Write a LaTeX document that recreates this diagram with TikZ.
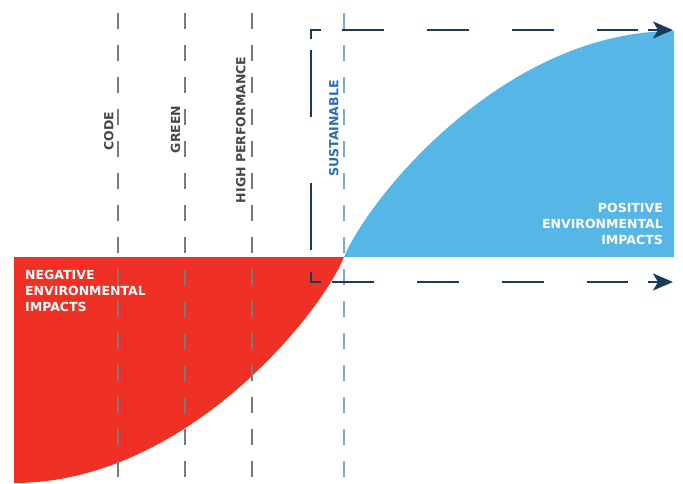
\documentclass[tikz,border=0pt]{standalone}
\usepackage{fontspec}
\setmainfont{DejaVu Sans}
\usetikzlibrary{arrows.meta}
\definecolor{negred}{HTML}{EE3124}
\definecolor{posblue}{HTML}{56B7E6}
\definecolor{axisnavy}{HTML}{1B3A5C}
\definecolor{levelgray}{HTML}{7A7A7A}
\definecolor{sustline}{HTML}{7FA6CB}
\definecolor{susttext}{HTML}{2B6DB3}

\begin{document}
\begin{tikzpicture}[x=1pt,y=-1pt,>={Stealth[length=20pt,width=17pt,inset=5pt]},
    font=\bfseries\fontsize{12.5}{16}\selectfont]

    \tikzstyle{level}=[draw=levelgray, line width=1.2pt, dash pattern=on 16pt off 16pt, dash phase=19pt]
    \tikzstyle{levellabel}=[rotate=90, anchor=base west, inner sep=0pt, text=black!72]
    \tikzstyle{axis}=[draw=axisnavy, line width=2.2pt]
    \tikzstyle{impact}=[inner sep=0pt, text=white]

    \useasboundingbox (0,0) rectangle (683,484);

    % impact areas
    \fill[negred] (14,257) -- (344,257) .. controls (320,315) and (185,483) .. (14,483) -- cycle;
    \fill[posblue] (344,257) .. controls (368,199) and (503,31) .. (674,31) -- (674,257) -- cycle;

    % levels
    \coordinate (code top) at (118,0);   \coordinate (code bot) at (118,484);
    \coordinate (green top) at (185,0);  \coordinate (green bot) at (185,484);
    \coordinate (high top) at (252,0);   \coordinate (high bot) at (252,484);
    \coordinate (sust top) at (344,0);   \coordinate (sust bot) at (344,484);
    \draw[level] (code top) -- (code bot);
    \draw[level] (green top) -- (green bot);
    \draw[level] (high top) -- (high bot);
    \draw[level, draw=sustline] (sust top) -- (sust bot);

    \node[levellabel] (code)  at (113.3,150.5) {CODE};
    \node[levellabel] (green) at (180,153.3)   {GREEN};
    \node[levellabel] (high)  at (245.3,203.3) {HIGH PERFORMANCE};
    \node[levellabel, text=susttext] (sust) at (338.3,176.7) {SUSTAINABLE};

    % axes
    \coordinate (corner top) at (311,30);
    \coordinate (corner bot) at (311,282);
    \draw[axis] (311,39) -- (corner top) -- (321,30);
    \draw[axis] (311,272) -- (corner bot) -- (321,282);
    \draw[axis, dash pattern=on 67pt off 66pt] (311,50) -- (311,250);
    \draw[axis, dash pattern=on 41.5pt off 43.5pt] (342,30) -- (638,30);
    \draw[axis, dash pattern=on 41.5pt off 43.5pt] (332,282) -- (628,282);
    \coordinate (top start) at (648,30);  \coordinate (top end) at (673,30);
    \coordinate (bot start) at (648,282); \coordinate (bot end) at (673,282);
    \draw[axis, ->] (top start) -- (top end);
    \draw[axis, ->] (bot start) -- (bot end);

    \node[impact, anchor=north west, align=left] (neg) at (25,270) {NEGATIVE\\ENVIRONMENTAL\\IMPACTS};
    \node[impact, anchor=north east, align=right] (pos) at (663,203) {POSITIVE\\ENVIRONMENTAL\\IMPACTS};
\end{tikzpicture}
\end{document}
